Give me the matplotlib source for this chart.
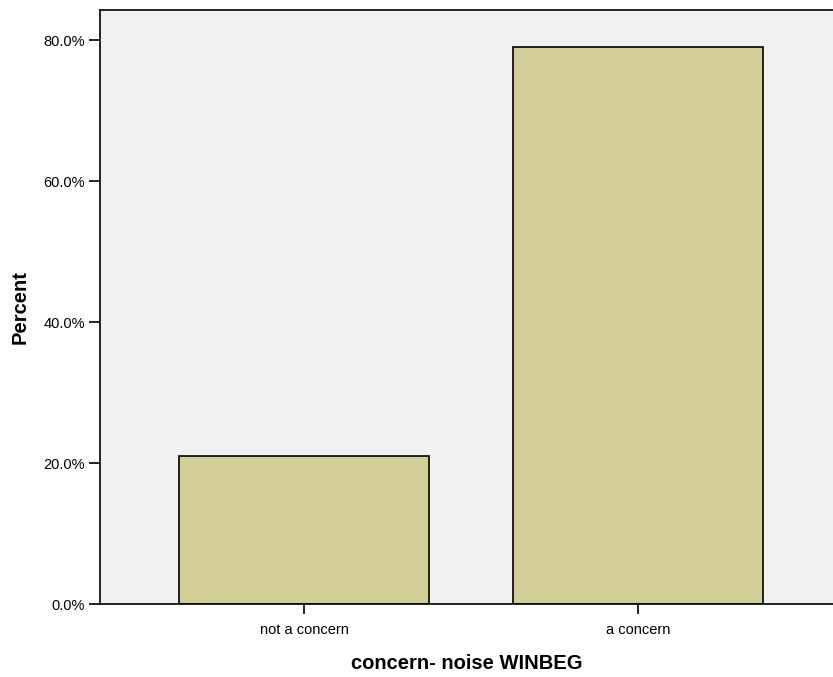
import matplotlib
matplotlib.use("Agg")
from matplotlib import pyplot as plt
from matplotlib.ticker import FuncFormatter

categories = ["not a concern", "a concern"]
percents = [21.0, 79.0]

plt.rcParams['font.family'] = ['Liberation Sans', 'DejaVu Sans']

fig = plt.figure(figsize=(8.33, 6.77), dpi=100)
ax = fig.add_axes([100/833, 73/677, 733/833, 594/677])
ax.set_facecolor("#f0f0f0")

x = range(len(categories))
ax.bar(x, percents, width=0.75, color="#d3ce98", edgecolor="black", linewidth=1.2, zorder=2)

ax.set_xlim(-0.611, 1.584)
ax.set_ylim(0, 84.26)
ax.set_xticks(list(x))
ax.set_xticklabels(categories, fontsize=10.5)
ax.set_yticks([0, 20, 40, 60, 80])
ax.yaxis.set_major_formatter(FuncFormatter(lambda v, p: "%.1f%%" % v))
ax.tick_params(axis="y", labelsize=10.5, length=8, width=1.2, pad=3)
ax.tick_params(axis="x", length=7, width=1.2, pad=7)

for s in ["left", "bottom", "top"]:
    ax.spines[s].set_linewidth(1.2)
ax.spines["right"].set_visible(False)

ax.set_ylabel("Percent", fontsize=14.5, fontweight="bold", labelpad=10)
ax.set_xlabel("concern- noise WINBEG", fontsize=14.5, fontweight="bold", labelpad=12)

fig.savefig("out.png", dpi=100)
